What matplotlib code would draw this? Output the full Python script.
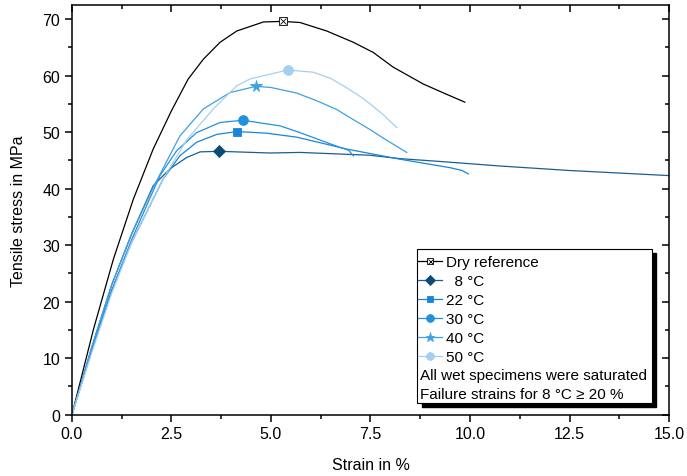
import matplotlib
matplotlib.use("Agg")
import matplotlib.pyplot as plt
from matplotlib.patches import Rectangle
from matplotlib.ticker import MultipleLocator
from matplotlib.legend_handler import HandlerTuple

plt.rcParams['font.family'] = ['Liberation Sans', 'DejaVu Sans']

# strain in %, stress in MPa
dry_x = [0, 0.54, 1.04, 1.54, 2.04, 2.5, 2.92, 3.30, 3.72, 4.14, 4.81, 5.29, 5.73,
         6.40, 7.07, 7.57, 8.07, 8.83, 9.41, 9.87]
dry_y = [0, 15.1, 27.5, 38.1, 47.0, 53.8, 59.4, 62.9, 65.9, 67.9, 69.5, 69.6, 69.4,
         67.9, 65.9, 64.1, 61.5, 58.5, 56.7, 55.3]

t8_x = [0, 0.5, 1.0, 1.5, 2.04, 2.46, 2.88, 3.22, 3.69, 4.97, 5.73, 7.49, 8.24,
        9.25, 10.75, 12.5, 15.0]
t8_y = [0, 12.0, 23.0, 32.0, 40.5, 43.5, 45.5, 46.5, 46.6, 46.3, 46.4, 45.9, 45.3,
        44.8, 44.0, 43.2, 42.3]

t22_x = [0, 0.5, 1.0, 1.5, 2.29, 2.71, 3.13, 3.64, 4.15, 4.9, 5.65, 6.9, 8.24,
         9.5, 9.8, 9.96]
t22_y = [0, 11.5, 22.0, 30.5, 41.7, 45.8, 48.2, 49.6, 50.1, 49.8, 49.1, 47.0, 45.2,
         43.7, 43.2, 42.6]

t30_x = [0, 0.5, 1.0, 1.5, 2.21, 2.63, 3.13, 3.72, 4.29, 5.23, 5.73, 6.73, 6.95, 7.07]
t30_y = [0, 11.5, 22.0, 31.0, 42.3, 46.7, 49.9, 51.7, 52.1, 51.1, 49.9, 47.3, 46.8, 45.8]

t40_x = [0, 0.5, 1.0, 1.5, 2.04, 2.71, 3.30, 3.97, 4.62, 5.0, 5.65, 6.2, 6.65,
         7.0, 7.5, 7.85, 8.41]
t40_y = [0, 12.0, 23.0, 32.0, 40.2, 49.3, 54.1, 57.0, 58.1, 57.9, 56.9, 55.4, 54.0,
         52.5, 50.4, 48.8, 46.4]

t50_x = [0, 0.5, 1.0, 1.5, 2.29, 2.88, 3.55, 4.14, 4.47, 5.42, 6.06, 6.5, 6.82,
         7.2, 7.49, 7.8, 8.16]
t50_y = [0, 11.0, 21.5, 30.5, 41.7, 48.6, 54.1, 58.2, 59.4, 61.0, 60.6, 59.5, 58.2,
         56.5, 55.0, 53.2, 50.8]

labels = ['Dry reference', '  8 °C', '22 °C', '30 °C', '40 °C', '50 °C']
notes = ['All wet specimens were saturated', 'Failure strains for 8 °C ≥ 20 %']

fig = plt.figure(figsize=(6.87, 4.77), dpi=100)
ax = fig.add_axes([0.1048, 0.1289, 0.869, 0.8585])

series = [
    (dry_x, dry_y, 'black', 's', 6, 'black'),
    (t8_x, t8_y, '#1b5e90', 'D', 6.5, '#0d4a78'),
    (t22_x, t22_y, '#1b84d6', 's', 6, '#1b84d6'),
    (t30_x, t30_y, '#2290dc', 'o', 7, '#2290dc'),
    (t40_x, t40_y, '#3fa0e2', '*', 8.5, '#3fa0e2'),
    (t50_x, t50_y, '#a6cfef', 'o', 7, '#a6cfef'),
]
handles = []
for i, ((xs, ys, c, m, ms, mc), lab) in enumerate(zip(series, labels)):
    peak = ys.index(max(ys))
    mfc = 'white' if i == 0 else mc
    h, = ax.plot(xs, ys, color=c, lw=0.9, marker=m, markersize=ms,
                 markevery=[peak], markerfacecolor=mfc, markeredgecolor=mc,
                 markeredgewidth=0.6)
    if i == 0:
        # cross inside the square marker of the dry reference
        hx, = ax.plot([xs[peak]], [ys[peak]], ls='none', marker='x', markersize=4.5,
                      markeredgewidth=0.6, color='black')
        handles.append((h, hx))
    else:
        handles.append(h)

ax.set_xlim(0, 15)
ax.set_ylim(0, 72.5)
ax.xaxis.set_major_locator(MultipleLocator(2.5))
ax.xaxis.set_minor_locator(MultipleLocator(1.25))
ax.yaxis.set_major_locator(MultipleLocator(10))
ax.yaxis.set_minor_locator(MultipleLocator(5))
ax.xaxis.set_major_formatter(lambda v, p: f'{v:.1f}')
for s in ax.spines.values():
    s.set_linewidth(1.1)
ax.tick_params(which='both', direction='out', width=1.1, labelsize=11.5)
ax.tick_params(which='major', length=5)
ax.tick_params(which='minor', length=3)
ax.tick_params(which='both', top=True, right=True)
# inward ticks on top and right
for tk in ax.xaxis.get_major_ticks() + ax.xaxis.get_minor_ticks():
    tk.tick2line.set_marker(3)
for tk in ax.yaxis.get_major_ticks() + ax.yaxis.get_minor_ticks():
    tk.tick2line.set_marker(0)
ax.set_xlabel('Strain in %', fontsize=11.5, labelpad=11)
ax.set_ylabel('Tensile stress in MPa', fontsize=11.5, labelpad=12)

# legend box with a solid black shadow
x0, y0, w, hgt = 0.578, 0.028, 0.393, 0.376
ax.add_patch(Rectangle((x0 + 0.0075, y0 - 0.010), w, hgt, transform=ax.transAxes,
                       facecolor='black', edgecolor='black', zorder=5))
ax.add_patch(Rectangle((x0, y0), w, hgt, transform=ax.transAxes,
                       facecolor='white', edgecolor='black', lw=0.8, zorder=6))
leg = ax.legend(handles=handles, labels=labels, loc='upper left',
                bbox_to_anchor=(x0 - 0.004, y0 + hgt - 0.008),
                handler_map={tuple: HandlerTuple(ndivide=1)},
                frameon=False, fontsize=11, handlelength=1.6, handletextpad=0.25,
                labelspacing=0.32, borderaxespad=0, borderpad=0.2, markerscale=0.8)
leg.set_zorder(7)
for i, n in enumerate(notes):
    ax.text(x0 + 0.005, y0 + 0.0685 - i * 0.0465, n, transform=ax.transAxes,
            fontsize=11, va='center', ha='left', zorder=8)

fig.savefig('out.png', dpi=100)
